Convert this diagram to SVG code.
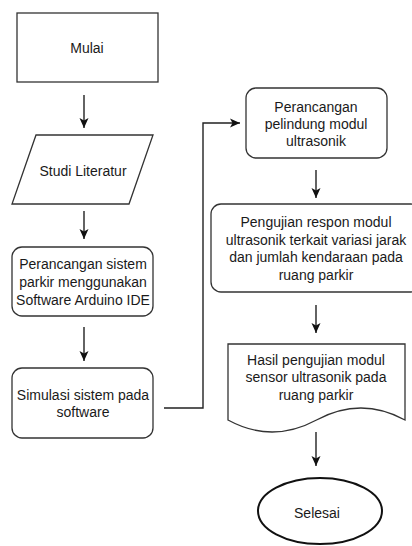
<svg xmlns="http://www.w3.org/2000/svg" width="412" height="546" viewBox="0 0 412 546">
<defs>
<style>
.s{fill:#fff;stroke:#333;stroke-width:1.3}
.t{font-family:"Liberation Sans",Arial,sans-serif;font-size:14px;fill:#1a1a1a;text-anchor:middle}
.c{fill:none;stroke:#222;stroke-width:1.4}
</style>
<marker id="ah" markerUnits="userSpaceOnUse" markerWidth="12" markerHeight="12" viewBox="0 0 12 12" refX="11" refY="6" orient="auto">
<path d="M1,1.5 L11,6 L1,10.5 L3.5,6 Z" fill="#111"/>
</marker>
</defs>
<rect width="412" height="546" fill="#fff"/>
<g id="mulai">
<rect class="s" x="17" y="13" width="141" height="69"/>
<text class="t" x="87" y="53">Mulai</text>
</g>
<g id="studi">
<polygon class="s" points="36,135 153,135 129,204 12,204"/>
<text class="t" x="83" y="176">Studi Literatur</text>
</g>
<g id="perancangan-sistem">
<rect class="s" x="12" y="247" width="141" height="69" rx="10"/>
<text class="t" x="83" y="269">Perancangan sistem</text>
<text class="t" x="83" y="287">parkir menggunakan</text>
<text class="t" x="83" y="305">Software Arduino IDE</text>
</g>
<g id="simulasi">
<rect class="s" x="12" y="368" width="141" height="70" rx="10"/>
<text class="t" x="83" y="400">Simulasi sistem pada</text>
<text class="t" x="83" y="417">software</text>
</g>
<g id="pelindung">
<rect class="s" x="246" y="88" width="141" height="70" rx="10"/>
<text class="t" x="316" y="112">Perancangan</text>
<text class="t" x="316" y="129">pelindung modul</text>
<text class="t" x="316" y="146">ultrasonik</text>
</g>
<g id="pengujian">
<rect class="s" x="211" y="204" width="210" height="88" rx="10"/>
<text class="t" x="316" y="227">Pengujian respon modul</text>
<text class="t" x="316" y="244.5">ultrasonik terkait variasi jarak</text>
<text class="t" x="316" y="262">dan jumlah kendaraan pada</text>
<text class="t" x="316" y="279.5">ruang parkir</text>
</g>
<g id="hasil">
<path class="s" d="M228,344 H405 V420 Q361,396 316.5,420 Q272,444 228,420 Z"/>
<text class="t" x="316" y="365">Hasil pengujian modul</text>
<text class="t" x="316" y="382">sensor ultrasonik pada</text>
<text class="t" x="316" y="400">ruang parkir</text>
</g>
<g id="selesai">
<ellipse cx="320" cy="511" rx="62" ry="33" fill="#fff" stroke="#111" stroke-width="2"/>
<text class="t" x="317" y="518">Selesai</text>
</g>
<g id="connectors">
<path class="c" d="M84,95 V128" marker-end="url(#ah)"/>
<path class="c" d="M84,211 V239" marker-end="url(#ah)"/>
<path class="c" d="M84,327 V361" marker-end="url(#ah)"/>
<path class="c" d="M164,408 H203 V123 H240" marker-end="url(#ah)"/>
<path class="c" d="M316,170 V198" marker-end="url(#ah)"/>
<path class="c" d="M316,305 V333" marker-end="url(#ah)"/>
<path class="c" d="M316,432 V466" marker-end="url(#ah)"/>
</g>
</svg>
